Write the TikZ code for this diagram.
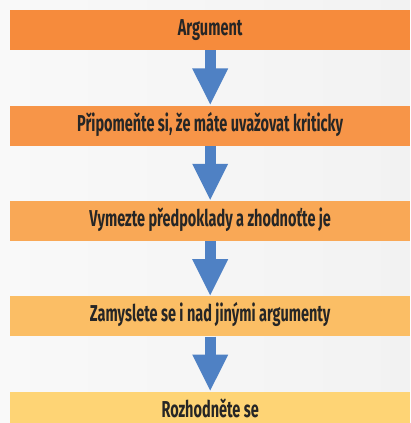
\documentclass[tikz,border=0pt]{standalone}
\usepackage{fontspec}
\setmainfont{Fira Sans}[FakeStretch=0.63]
\usetikzlibrary{arrows.meta,positioning}
\definecolor{stepa}{HTML}{F68B3C}
\definecolor{stepb}{HTML}{F79548}
\definecolor{stepc}{HTML}{F9A856}
\definecolor{stepd}{HTML}{FBBE65}
\definecolor{stepe}{HTML}{FED475}
\definecolor{flowblue}{HTML}{4F81C4}
\definecolor{ink}{HTML}{262626}
\definecolor{bgleft}{HTML}{F9F9F9}
\definecolor{bgright}{HTML}{F2F2F2}

\begin{document}
\begin{tikzpicture}[x=1pt,y=1pt,
  every node/.style={rectangle,minimum width=400pt,minimum height=40pt,inner sep=0pt,text height=15pt,text depth=4pt,font=\fontsize{23}{26}\selectfont\bfseries,text=ink},
  flow/.style={draw=flowblue,line width=11pt,-{Triangle[width=33pt,length=37pt]}}]
\useasboundingbox (0,0) rectangle (410,-423);
\clip (0,0) rectangle (410,-423);
\shade[left color=bgleft,right color=bgright] (0,0) rectangle (410,-423);
\node[fill=stepa,anchor=north west] (arg) at (10,-10) {Argument};
\node[fill=stepb,below=55pt of arg] (remind) {Připomeňte si, že máte uvažovat kriticky};
\node[fill=stepc,below=55pt of remind] (assume) {Vymezte předpoklady a zhodnoťte je};
\node[fill=stepd,below=55pt of assume] (others) {Zamyslete se i nad jinými argumenty};
\node[fill=stepe,below=55pt of others] (decide) {Rozhodněte se};
\draw[flow] (arg) -- (remind);
\draw[flow] (remind) -- (assume);
\draw[flow] (assume) -- (others);
\draw[flow] (others) -- (decide);
\end{tikzpicture}
\end{document}
